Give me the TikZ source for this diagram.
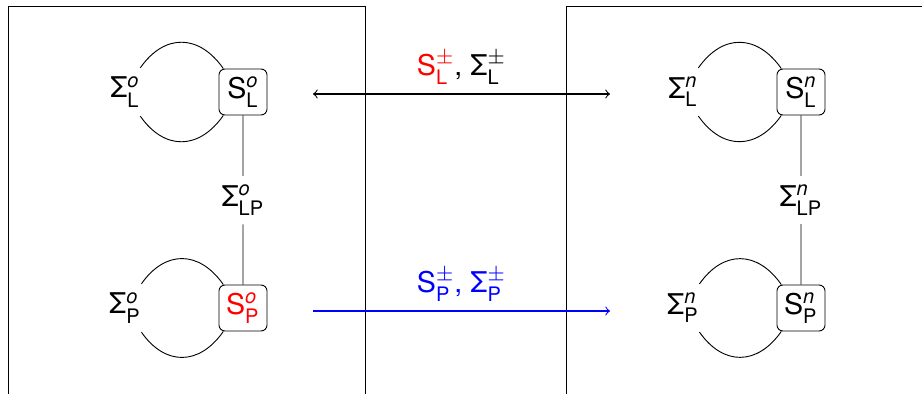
\documentclass[tikz,border=0pt]{standalone}
\usepackage{amsmath}
\usepackage{fontspec}
\setmainfont{TeX Gyre Heros}
\usetikzlibrary{arrows,positioning}
\newcommand{\sy}[3]{#1\ensuremath{^{#2}_{\text{#3}}}}

\begin{document}
\begin{tikzpicture}[x=0.385pt,y=-0.385pt,line width=0.35pt,
    every node/.style={font=\fontsize{11}{13}\selectfont},
    state/.style={draw,rounded corners=2.3pt,minimum width=18.5pt,minimum height=17.7pt,inner sep=1pt},
    self/.style={minimum height=17pt,inner xsep=0pt}]
  \useasboundingbox (0,0) rectangle (922,394);
  \clip (0,0) rectangle (922,394);
  \draw (8,6) rectangle (365,420);
  \draw (566,6) rectangle (940,420);

  % old
  \node[state] (sLo) at (243,92) {\sy{S}{\text{\itshape o}}{L}};
  \node[state] (sPo) at (243,308) {\textcolor{red}{\sy{S}{\text{\itshape o}}{P}}};
  \node[self,left of=sLo,node distance=45.4pt] (eLo) {\sy{Σ}{\text{\itshape o}}{L}};
  \node[self,left of=sPo,node distance=45.4pt] (ePo) {\sy{Σ}{\text{\itshape o}}{P}};
  \node[below of=sLo,node distance=41.6pt] (eLPo) {\sy{Σ}{\text{\itshape o}}{LP}};
  \draw (eLo.north east) to[out=55,in=125,looseness=1.3] (sLo.130)
        (eLo.south east) to[out=-55,in=-125,looseness=1.3] (sLo.-130)
        (ePo.north east) to[out=55,in=125,looseness=1.3] (sPo.130)
        (ePo.south east) to[out=-55,in=-125,looseness=1.3] (sPo.-130)
        (sLo) -- (eLPo) -- (sPo);

  % new
  \node[state] (sLn) at (801,92) {\sy{S}{\text{\itshape n}}{L}};
  \node[state] (sPn) at (801,308) {\sy{S}{\text{\itshape n}}{P}};
  \node[self,left of=sLn,node distance=45.4pt] (eLn) {\sy{Σ}{\text{\itshape n}}{L}};
  \node[self,left of=sPn,node distance=45.4pt] (ePn) {\sy{Σ}{\text{\itshape n}}{P}};
  \node[below of=sLn,node distance=41.6pt] (eLPn) {\sy{Σ}{\text{\itshape n}}{LP}};
  \draw (eLn.north east) to[out=55,in=125,looseness=1.3] (sLn.130)
        (eLn.south east) to[out=-55,in=-125,looseness=1.3] (sLn.-130)
        (ePn.north east) to[out=55,in=125,looseness=1.3] (sPn.130)
        (ePn.south east) to[out=-55,in=-125,looseness=1.3] (sPn.-130)
        (sLn) -- (eLPn) -- (sPn);

  % transfer
  \coordinate (aL) at (313,94);
  \coordinate (bL) at (610,94);
  \coordinate (aP) at (313,311);
  \coordinate (bP) at (610,311);
  \draw[<->,line width=0.4pt] (aL) -- node[above] {\textcolor{red}{\sy{S}{\pm}{L}}, \sy{Σ}{\pm}{L}} (bL);
  \draw[->,blue,line width=0.4pt] (aP) -- node[above] {\sy{S}{\pm}{P}, \sy{Σ}{\pm}{P}} (bP);
\end{tikzpicture}
\end{document}
